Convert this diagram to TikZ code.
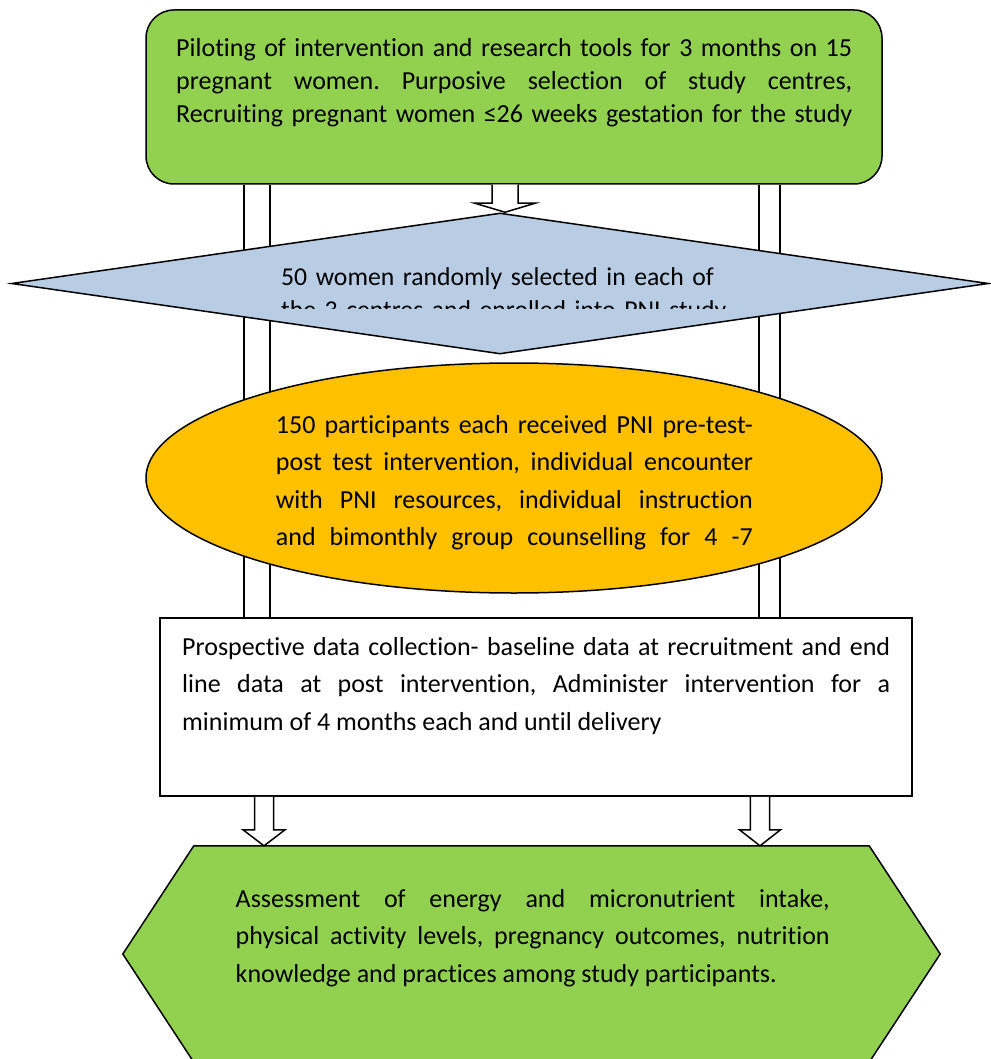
\documentclass[tikz,border=0pt]{standalone}
\usepackage{fontspec}
\setmainfont{Carlito}[Ligatures=NoCommon]
\usetikzlibrary{
  shapes.geometric,
  calc,
  backgrounds
}
\definecolor{leafgreen}{HTML}{92D050}
\definecolor{paleblue}{HTML}{B8CCE4}
\definecolor{amber}{HTML}{FFC000}
\tolerance=10000
\hbadness=10000
\frenchspacing

% block arrow: start, tip, shaft half width, head half width, head length
\newcommand{\hollowarrow}[5]{%
  \draw[arrowline] let \p1=(#1), \p2=(#2) in
    (\x1-#3pt,\y1) -- (\x1-#3pt,\y2+#5pt) -- (\x1-#4pt,\y2+#5pt) -- (\x1,\y2)
    -- (\x1+#4pt,\y2+#5pt) -- (\x1+#3pt,\y2+#5pt) -- (\x1+#3pt,\y1);}
% open shaft: start, end, half width
\newcommand{\hollowshaft}[3]{%
  \draw[arrowline] let \p1=(#1), \p2=(#2) in
    (\x1-#3pt,\y1) -- (\x1-#3pt,\y2) (\x1+#3pt,\y1) -- (\x1+#3pt,\y2);}

\begin{document}
\begin{tikzpicture}[
      x=1pt,y=-1pt,
      box line/.style={
         draw=black,
         line width=1.5pt
      },
      pilot/.style={
         box line,
         rectangle,
         rounded corners=28pt,
         fill=leafgreen,
         minimum width=736pt,
         minimum height=174pt,
         inner sep=0pt
      },
      decision/.style={
         box line,
         diamond,
         fill=paleblue,
         minimum width=977pt,
         minimum height=141pt,
         inner sep=0pt
      },
      intervention/.style={
         box line,
         ellipse,
         fill=amber,
         minimum width=736pt,
         minimum height=230pt,
         inner sep=0pt
      },
      process/.style={
         box line,
         rectangle,
         fill=white,
         minimum width=752pt,
         minimum height=178pt,
         inner sep=0pt
      },
      outcome/.style={
         rectangle,
         minimum width=817pt,
         minimum height=216pt,
         inner sep=0pt
      },
      body/.style={
         anchor=base west,
         inner sep=0pt,
         align=justify,
         font=\fontsize{26}{37.5}\selectfont
      },
      arrowline/.style={line width=1.5pt,fill=white,line join=miter}
    ]
    \useasboundingbox (0,0) rectangle (990,1059);
    \node (n1) [pilot] at (514,97) {};
    \node (n2) [decision] at (500,283.5) {};
    \node (n3) [intervention] at (514,478) {};
    \node (n4) [process] at (536,707) {};
    \node (n5) [outcome] at (531.5,954) {};
    \draw[box line,fill=leafgreen] (n5.west) -- ($(n5.north west)+(71,0)$)
       -- ($(n5.north east)+(-71,0)$) -- (n5.east)
       -- ($(n5.south east)+(-71,0)$) -- ($(n5.south west)+(71,0)$) -- cycle;

    % texts
    \node (t1) [body,text width=676pt,font=\fontsize{26}{33}\selectfont] at (176,57)
       {Piloting of intervention and research tools for 3 months on 15\linebreak
        pregnant women. Purposive selection of study centres,\linebreak
        \makebox[\linewidth][s]{Recruiting pregnant women ≤26 weeks gestation for the study}};
    \begin{scope}
      \clip (0,250) rectangle (990,308);
      \node (t2) [body,text width=520pt,align=left,font=\fontsize{25.7}{33}\selectfont] at (281,285)
         {50 women randomly selected in each of\\the 3 centres and enrolled into PNI study};
    \end{scope}
    \node (t3) [body,text width=477pt] at (275.7,433)
       {150 participants each received PNI \mbox{pre-test-}\linebreak
        post test intervention, individual encounter\linebreak
        with PNI resources, individual instruction\linebreak
        \makebox[\linewidth][s]{and bimonthly group counselling for 4 -7}};
    \node (t4) [body,text width=708pt] at (182,655)
       {Prospective data collection- baseline data at recruitment and end\linebreak
        line data at post intervention, Administer intervention for a\linebreak
        minimum of 4 months each and until delivery};
    \node (t5) [body,text width=594pt] at (235.5,907)
       {Assessment of energy and micronutrient intake,\linebreak
        physical activity levels, pregnancy outcomes, nutrition\linebreak
        knowledge and practices among study participants.};

    % arrows
    \begin{scope}[on background layer]
      \hollowshaft{n1.south -| 257,0}{n4.north -| 257,0}{13}
      \hollowshaft{n1.south -| 769.5,0}{n4.north -| 769.5,0}{10.5}
    \end{scope}
    \hollowarrow{n1.south -| 505,0}{n2.north -| 505,0}{13}{30}{9}
    \hollowarrow{n4.south -| 264,0}{n5.north -| 264,0}{9.5}{21}{16}
    \hollowarrow{n4.south -| 760,0}{n5.north -| 760,0}{9.7}{20.5}{16}
\end{tikzpicture}
\end{document}
